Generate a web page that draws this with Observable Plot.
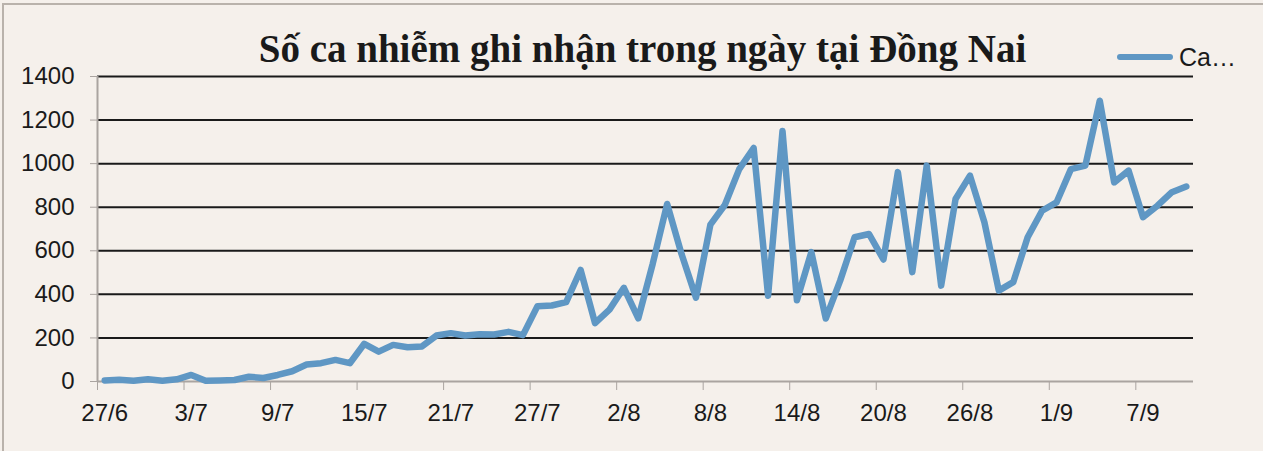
<!DOCTYPE html>
<html>
<head>
<meta charset="utf-8">
<script src="https://cdn.jsdelivr.net/npm/d3@7"></script>
<script src="https://cdn.jsdelivr.net/npm/@observablehq/plot@0.6"></script>
<style>
  html, body { margin: 0; padding: 0; background: #f5f0eb; }
  #wrap { position: relative; width: 1263px; height: 451px; overflow: hidden; background: #f5f0eb; }
  #frame { position: absolute; left: 2px; top: 3px; width: 1300px; height: 500px; border-top: 2px solid #b9b2ab; border-left: 2px solid #b9b2ab; box-sizing: border-box; }
  #title { position: absolute; left: 11px; top: 29px; width: 1263px; text-align: center; font-family: "Liberation Serif", "Times New Roman", serif; font-weight: bold; font-size: 39px; line-height: 1; color: #1a1a1a; white-space: nowrap; }
  #legend { position: absolute; left: 1117px; top: 45px; height: 24px; display: flex; align-items: center; font-family: "Liberation Sans", Arial, sans-serif; font-size: 25px; line-height: 1; color: #1a1a1a; }
  #legend .sw { width: 56px; height: 6px; border-radius: 3px; margin-right: 6px; }
  #chart { position: absolute; left: 0; top: 0; }
</style>
</head>
<body>
<div id="wrap">
  <div id="frame"></div>
  <div id="chart"></div>
  <div id="title">Số ca nhiễm ghi nhận trong ngày tại Đồng Nai</div>
  <div id="legend"><span class="sw"></span><span id="legtext"></span></div>
</div>
<script>
// ---- data ----
const dates = [
  "27/6","28/6","29/6","30/6",
  "1/7","2/7","3/7","4/7","5/7","6/7","7/7","8/7","9/7","10/7","11/7","12/7","13/7","14/7","15/7","16/7",
  "17/7","18/7","19/7","20/7","21/7","22/7","23/7","24/7","25/7","26/7","27/7","28/7","29/7","30/7","31/7",
  "1/8","2/8","3/8","4/8","5/8","6/8","7/8","8/8","9/8","10/8","11/8","12/8","13/8","14/8","15/8","16/8",
  "17/8","18/8","19/8","20/8","21/8","22/8","23/8","24/8","25/8","26/8","27/8","28/8","29/8","30/8","31/8",
  "1/9","2/9","3/9","4/9","5/9","6/9","7/9","8/9","9/9","10/9"
];
const cases = [
  5, 8, 3, 10, 3, 10, 30, 3, 5, 7,
  22, 16, 30, 47, 78, 84, 99, 84, 173, 137,
  168, 157, 161, 211, 222, 211, 217, 216, 228, 213,
  345, 349, 364, 512, 268, 330, 430, 290, 540, 815,
  585, 385, 720, 810, 975, 1072, 394, 1150, 373, 594,
  289, 463, 662, 677, 560, 961, 502, 991, 440, 838,
  945, 731, 417, 456, 662, 784, 822, 975, 991, 1289,
  914, 968, 754, 807, 869, 895
];
const tickLabels = ["27/6","3/7","9/7","15/7","21/7","27/7","2/8","8/8","14/8","20/8","26/8","1/9","7/9"];
const yTicks = [0, 200, 400, 600, 800, 1000, 1200, 1400];
const seriesName = "Ca…";
const lineColor = "#5f97c4";

// ---- build ----
const rows = dates.map((d, i) => ({i, date: d, value: cases[i]}));
const labelIdx = tickLabels.map(l => dates.indexOf(l));
const boundaries = labelIdx.map(i => i - 0.5);

document.querySelector("#legend .sw").style.background = lineColor;
document.getElementById("legtext").textContent = seriesName;

const chart = Plot.plot({
  width: 1263,
  height: 451,
  marginTop: 76,
  marginBottom: 70,
  marginLeft: 97,
  marginRight: 70,
  style: {background: "transparent", fontFamily: "'Liberation Sans', Arial, sans-serif", fontSize: "24px", color: "#1a1a1a"},
  x: {type: "linear", domain: [-0.5, dates.length - 0.5]},
  y: {domain: [0, 1400]},
  marks: [
    Plot.gridY(yTicks.filter(v => v > 0), {stroke: "#1a1a1a", strokeOpacity: 1, strokeWidth: 2}),
    Plot.ruleY([0], {stroke: "#aaa4a0", strokeWidth: 2}),
    Plot.ruleX([-0.5], {stroke: "#aaa4a0", strokeWidth: 2}),
    Plot.axisY({ticks: yTicks, tickSize: 7, tickPadding: 16, tickFormat: d => String(d), stroke: "#aaa4a0", fill: "#1a1a1a", label: null}),
    Plot.axisX({ticks: boundaries, tickSize: 9, tickFormat: () => "", stroke: "#aaa4a0", label: null}),
    Plot.axisX({ticks: labelIdx, tickSize: 0, tickPadding: 22, tickFormat: i => dates[i], fill: "#1a1a1a", label: null}),
    Plot.lineY(rows, {x: "i", y: "value", stroke: lineColor, strokeWidth: 6.5, strokeLinejoin: "round", strokeLinecap: "round"})
  ]
});
document.getElementById("chart").appendChild(chart);
</script>
</body>
</html>
